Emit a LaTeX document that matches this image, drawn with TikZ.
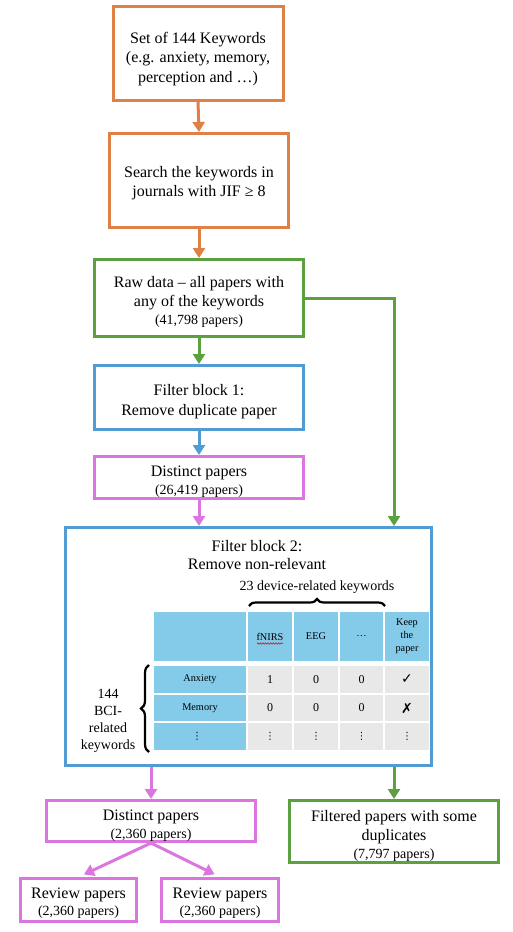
\documentclass[tikz,border=0pt]{standalone}
\usepackage{fontspec}
\setmainfont{Liberation Serif}
\newfontfamily\symfont{DejaVu Sans}
\usetikzlibrary{arrows.meta,decorations.pathreplacing,decorations.pathmorphing}
\definecolor{corange}{RGB}{223,128,71}
\definecolor{cgreen}{RGB}{92,160,64}
\definecolor{cblue}{RGB}{82,156,212}
\definecolor{cpink}{RGB}{218,118,222}
\definecolor{cellblue}{RGB}{132,203,234}
\definecolor{cellgray}{RGB}{232,232,232}
\newcommand\bigfs{\fontsize{16}{19.5}\selectfont}
\newcommand\smfs{\fontsize{14}{17}\selectfont}
\begin{document}
\begin{tikzpicture}[x=1pt,y=-1pt,
 box/.style={draw, line width=3pt, fill=white, inner sep=0pt},
 txt/.style={align=center, inner sep=0pt, font=\bigfs},
 arr/.style={line width=3pt, -{Triangle[width=12pt,length=10pt]}},
 cellb/.style={fill=cellblue, draw=none, inner sep=0pt},
 cellg/.style={fill=cellgray, draw=none, inner sep=0pt},
 tsmall/.style={font=\fontsize{10.3}{13}\selectfont, align=center, inner sep=0pt},
 tnum/.style={font=\fontsize{12}{14}\selectfont, inner sep=0pt},
 tsym/.style={font=\symfont\fontsize{14}{16}\selectfont, inner sep=0pt},
 tdots/.style={font=\symfont\fontsize{10}{12}\selectfont, inner sep=0pt},
 brc/.style={decorate, line width=2.2pt}]
\useasboundingbox (0,0) rectangle (512,932);

% main boxes
\node[box, draw=corange, minimum width=170pt, minimum height=94pt] (b1) at (198,53) {};
\node[txt] (b1t) at ([yshift=-6pt]b1.center) {Set of 144 Keywords\\(e.g. anxiety, memory,\\perception and \dots)};
\node[box, draw=corange, minimum width=179pt, minimum height=94pt] (b2) at (199,180.5) {};
\node[txt] (b2t) at ([yshift=-2.5pt]b2.center) {Search the keywords in\\journals with JIF ≥ 8};
\node[box, draw=cgreen, minimum width=209pt, minimum height=77pt] (b3) at (199,298) {};
\node[txt] (b3t) at ([yshift=-3.5pt]b3.center) {Raw data – all papers with\\any of the keywords\\[-2pt]{\smfs (41,798 papers)}};
\node[box, draw=cblue, minimum width=209pt, minimum height=64pt] (b4) at (199,397.5) {};
\node[txt] (b4t) at ([yshift=-4pt]b4.center) {Filter block 1:\\Remove duplicate paper};
\node[box, draw=cpink, minimum width=209pt, minimum height=42pt] (b5) at (199,477.5) {};
\node[txt] (b5t) at ([yshift=-4pt]b5.center) {Distinct papers\\[-2pt]{\smfs (26,419 papers)}};
\node[box, draw=cblue, minimum width=366pt, minimum height=238pt] (fb) at (248.5,646.5) {};
\node[box, draw=cpink, minimum width=209pt, minimum height=41pt] (d2) at (151,821) {};
\node[txt] (d2t) at ([yshift=-4.5pt]d2.center) {Distinct papers\\[-1.5pt]{\smfs (2,360 papers)}};
\node[box, draw=cgreen, minimum width=209pt, minimum height=62pt] (g2) at (394,831.5) {};
\node[txt] (g2t) at ([yshift=-4pt]g2.center) {Filtered papers with some\\duplicates\\[-2pt]{\smfs (7,797 papers)}};
\node[box, draw=cpink, minimum width=116pt, minimum height=43pt] (rA) at (78.5,900) {};
\node[txt] (rAt) at ([yshift=-3pt]rA.center) {Review papers\\[-2pt]{\smfs (2,360 papers)}};
\node[box, draw=cpink, minimum width=117pt, minimum height=43pt] (rB) at (220,900) {};
\node[txt] (rBt) at ([yshift=-3pt]rB.center) {Review papers\\[-2pt]{\smfs (2,360 papers)}};

% filter block 2 content
\node[txt, font=\fontsize{16}{18.5}\selectfont] (fbt) at (257,555) {Filter block 2:\\Remove non-relevant};
\node[font=\fontsize{14}{16}\selectfont, inner sep=0pt] (dev) at (317,587) {23 device-related keywords};
\coordinate (brL) at (249,606);
\coordinate (brR) at (385,606);
\draw[brc, decoration={brace, amplitude=7pt}] (brL) -- (brR);
\coordinate (lbB) at (149,752);
\coordinate (lbT) at (149,665);
\draw[brc, decoration={brace, amplitude=8pt}] (lbB) -- (lbT);
\node[font=\fontsize{14}{17}\selectfont, align=center, inner sep=0pt] (bci) at (108,721)
  {144\\BCI-\\related\\keywords};

% table cells
\foreach \cx/\cw/\cn in {200/92/0, 270/44/1, 316/44/2, 361.5/43/3, 407/44/4}{
  \node[cellb, minimum width=\cw pt, minimum height=49pt] (c-0-\cn) at (\cx,636.5) {};
}
\foreach \ry/\rh/\rn in {679.5/27/1, 708/26/2, 736.5/27/3}{
  \node[cellb, minimum width=92pt, minimum height=\rh pt] (c-\rn-0) at (200,\ry) {};
  \foreach \cx/\cw/\cn in {270/44/1, 316/44/2, 361.5/43/3, 407/44/4}{
    \node[cellg, minimum width=\cw pt, minimum height=\rh pt] (c-\rn-\cn) at (\cx,\ry) {};
  }
}
\node[tsmall] (t01) at (c-0-1) {fNIRS};
\draw[red!85!black, line width=0.5pt, decorate, decoration={snake, amplitude=0.8pt, segment length=2.6pt}]
  ([xshift=-13pt,yshift=-7pt]t01.center) -- ([xshift=13pt,yshift=-7pt]t01.center);
\node[tsmall] (t02) at (c-0-2) {EEG};
\node[tsmall] (t03) at (c-0-3) {\dots};
\node[tsmall] (t04) at (c-0-4) {Keep\\the\\paper};
\node[tsmall] (t10) at (c-1-0) {Anxiety};
\node[tnum] (t11) at (c-1-1) {1};
\node[tnum] (t12) at (c-1-2) {0};
\node[tnum] (t13) at (c-1-3) {0};
\node[tsym] (t14) at (c-1-4) {✓};
\node[tsmall] (t20) at (c-2-0) {Memory};
\node[tnum] (t21) at (c-2-1) {0};
\node[tnum] (t22) at (c-2-2) {0};
\node[tnum] (t23) at (c-2-3) {0};
\node[tsym] (t24) at (c-2-4) {✗};
\node[tdots] (t30) at ([xshift=-3pt]c-3-0) {⋮};
\node[tdots] (t31) at (c-3-1) {⋮};
\node[tdots] (t32) at (c-3-2) {⋮};
\node[tdots] (t33) at (c-3-3) {⋮};
\node[tdots] (t34) at (c-3-4) {⋮};

% connectors
\draw[arr, draw=corange] (b1.south) -- (b2.north);
\draw[arr, draw=corange] (b2.south) -- (b3.north);
\draw[arr, draw=cgreen] (b3.south) -- (b4.north);
\draw[arr, draw=cblue] (b4.south) -- (b5.north);
\draw[arr, draw=cpink] (b5.south) -- (b5.south |- fb.north);
\coordinate (gx) at (394,0);
\draw[arr, draw=cgreen] (b3.east) -| (gx |- fb.north);
\draw[arr, draw=cpink] (d2.north |- fb.south) -- (d2.north);
\draw[arr, draw=cgreen] (g2.north |- fb.south) -- (g2.north);
\draw[arr, draw=cpink, shorten >=6pt] (d2.south) -- (rA.north);
\draw[arr, draw=cpink, shorten >=6pt] (d2.south) -- (rB.north);
\end{tikzpicture}
\end{document}
